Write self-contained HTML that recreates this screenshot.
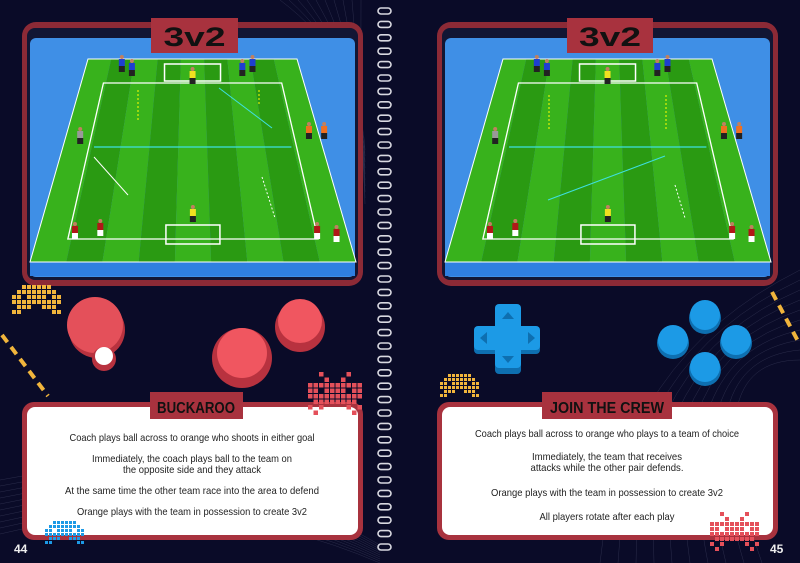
<!DOCTYPE html>
<html><head><meta charset="utf-8"><style>
html,body{margin:0;padding:0;background:#0a0b28;}
svg{display:block}
text{font-family:"Liberation Sans",sans-serif}
</style></head><body>
<svg id="s" width="800" height="563" viewBox="0 0 800 563" xmlns="http://www.w3.org/2000/svg">
<rect width="800" height="563" fill="#0a0b28"/>
<g id="bg" fill="none" stroke="#8a8fb0" stroke-width="0.5" opacity="0.25"></g>
<g id="scr"></g>
<g id="rings" fill="none" stroke="#d8d8e0" stroke-width="1.6"></g>
<circle cx="97" cy="330" r="28" fill="#b8323f"/><circle cx="95" cy="325" r="28" fill="#e4505a"/>
<circle cx="104" cy="359" r="12" fill="#b8323f"/><circle cx="104" cy="356" r="9" fill="#fff"/>
<circle cx="242" cy="358" r="30" fill="#b8323f"/><circle cx="242" cy="353" r="25" fill="#f05660"/>
<circle cx="300" cy="327" r="25" fill="#b8323f"/><circle cx="300" cy="321" r="22" fill="#f05660"/>
<g fill="#0e6fb0"><rect x="495" y="308" width="26" height="66" rx="4"/><rect x="474" y="328" width="66" height="26" rx="4"/></g>
<g fill="#1c9ae6"><rect x="495" y="304" width="26" height="64" rx="4"/><rect x="474" y="326" width="66" height="24" rx="4"/></g>
<g fill="#0e6fb0"><polygon points="508,312 502,319 514,319"/><polygon points="508,363 502,356 514,356"/><polygon points="480,338 487,332 487,344"/><polygon points="535,338 528,332 528,344"/></g>
<g id="bb"></g>
<line x1="2" y1="335" x2="48" y2="396" stroke="#f1b53c" stroke-width="4" stroke-dasharray="9 6"/>
<line x1="772" y1="292" x2="800" y2="345" stroke="#f1b53c" stroke-width="4" stroke-dasharray="9 6"/>
<rect x="22" y="402" width="341" height="138" rx="12" fill="#a8323e"/>
<rect x="27" y="407" width="331" height="128" rx="8" fill="#fff"/>
<rect x="150" y="392" width="93" height="27" fill="#a8323e"/>
<text x="196" y="413" text-anchor="middle" font-size="16" font-weight="bold" fill="#111" textLength="78" lengthAdjust="spacingAndGlyphs">BUCKAROO</text>
<g font-size="10.5" fill="#222" text-anchor="middle" lengthAdjust="spacingAndGlyphs">
<text x="192" y="441" textLength="245" lengthAdjust="spacingAndGlyphs">Coach plays ball across to orange who shoots in either goal</text>
<text x="192" y="462" textLength="200" lengthAdjust="spacingAndGlyphs">Immediately, the coach plays ball to the team on</text>
<text x="192" y="473" textLength="138" lengthAdjust="spacingAndGlyphs">the opposite side and they attack</text>
<text x="192" y="494" textLength="254" lengthAdjust="spacingAndGlyphs">At the same time the other team race into the area to defend</text>
<text x="192" y="515" textLength="230" lengthAdjust="spacingAndGlyphs">Orange plays with the team in possession to create 3v2</text>
</g>
<rect x="437" y="402" width="341" height="138" rx="12" fill="#a8323e"/>
<rect x="442" y="407" width="331" height="128" rx="8" fill="#fff"/>
<rect x="542" y="392" width="130" height="27" fill="#a8323e"/>
<text x="607" y="413" text-anchor="middle" font-size="16" font-weight="bold" fill="#111" textLength="114" lengthAdjust="spacingAndGlyphs">JOIN THE CREW</text>
<g font-size="10.5" fill="#222" text-anchor="middle">
<text x="607" y="437" textLength="264" lengthAdjust="spacingAndGlyphs">Coach plays ball across to orange who plays to a team of choice</text>
<text x="607" y="460" textLength="150" lengthAdjust="spacingAndGlyphs">Immediately, the team that receives</text>
<text x="607" y="471" textLength="153" lengthAdjust="spacingAndGlyphs">attacks while the other pair defends.</text>
<text x="607" y="496" textLength="232" lengthAdjust="spacingAndGlyphs">Orange plays with the team in possession to create 3v2</text>
<text x="607" y="520" textLength="135" lengthAdjust="spacingAndGlyphs">All players rotate after each play</text>
</g>
<g id="inv"></g>
<text x="14" y="553" font-size="12" font-weight="bold" fill="#eee">44</text>
<text x="770" y="553" font-size="12" font-weight="bold" fill="#eee">45</text>
</svg>
<script>
var NS="http://www.w3.org/2000/svg";
function el(p,t,a){var e=document.createElementNS(NS,t);for(var k in a)e.setAttribute(k,a[k]);p.appendChild(e);return e;}
var bg=document.getElementById('bg');
for(var i=0;i<10;i++){el(bg,'path',{d:'M'+(280+i*9)+' 0 Q 360 '+(60+i*4)+' 365 '+(150+i*6)});
el(bg,'path',{d:'M0 '+(480+i*6)+' Q 200 '+(440+i*5)+' 380 '+(545+i*2)});
el(bg,'path',{d:'M'+(600+i*18)+' 563 Q '+(620+i*8)+' 360 800 '+(270+i*10)});}
var rg=document.getElementById('rings');
for(var y=11;y<552;y+=13.4){el(rg,'rect',{x:378,y:y-3,width:13,height:6,rx:3});}
var scr=document.getElementById('scr');
function screen(ox,rt,title,tx,tw,left){
 el(scr,'rect',{x:ox,y:22,width:341,height:264,rx:14,fill:'#8c2a36'});
 el(scr,'rect',{x:ox+5,y:28,width:331,height:252,rx:8,fill:'#121634'});
 el(scr,'rect',{x:ox+8,y:38,width:325,height:239,rx:6,fill:'#3f8fe6'});
 el(scr,'rect',{x:ox+8,y:262,width:325,height:14,fill:'#2f7fe0'});
 var tl=rt[0],tr=rt[1],bl=ox+8,br=ox+334,ty=59,by=262;
 var n=9;
 for(var i=0;i<n;i++){var a=i/n,b=(i+1)/n;
  var p=[tl+(tr-tl)*a,ty,tl+(tr-tl)*b,ty,bl+(br-bl)*b,by,bl+(br-bl)*a,by];
  el(scr,'polygon',{points:p.join(','),fill:i%2?'#2a9a12':'#38b21c'});}
 function lerp(f,y){var t=(y-ty)/(by-ty);var l=tl+(bl-tl)*t,r=tr+(br-tr)*t;return l+(r-l)*f;}
 el(scr,'polygon',{points:[tl,ty,tr,ty,br,by,bl,by].join(','),fill:'none',stroke:'#fff','stroke-width':1});
 var y1=83,y2=239;
 el(scr,'polygon',{points:[lerp(.1,y1),y1,lerp(.9,y1),y1,lerp(.9,y2),y2,lerp(.1,y2),y2].join(','),fill:'none',stroke:'#fff','stroke-width':1.3});
 var cx=lerp(.5,70);
 el(scr,'rect',{x:cx-28,y:64,width:56,height:17,fill:'none',stroke:'#fff','stroke-width':1.5});
 var cx2=lerp(.5,235);
 el(scr,'rect',{x:cx2-27,y:225,width:54,height:19,fill:'none',stroke:'#fff','stroke-width':1.5});
 el(scr,'rect',{x:tx,y:18,width:tw,height:35,fill:'#a8323e'});
 el(scr,'text',{x:tx+tw/2,y:46,'text-anchor':'middle','font-size':27,'font-weight':'bold',fill:'#111',textLength:62,lengthAdjust:'spacingAndGlyphs'}).textContent=title;
 var pl=[[.17,68,'#1e3fd0'],[.22,72,'#1e3fd0'],[.78,68,'#1e3fd0'],[.73,72,'#1e3fd0'],[.5,80,'#f0e020'],[.5,218,'#f0e020'],
 [.12,235,'#b01818'],[.2,232,'#b01818'],[.9,235,'#b01818'],[.96,238,'#b01818'],[.06,140,'#999'],[.96,135,'#f07020'],[1.02,135,'#f07020']];
 pl.forEach(function(q){var x=lerp(q[0],q[1]);el(scr,'rect',{x:x-3,y:q[1]-9,width:6,height:7,fill:q[2]});el(scr,'rect',{x:x-3,y:q[1]-2,width:6,height:6,fill:q[2]=='#b01818'?'#fff':'#222'});el(scr,'circle',{cx:x,cy:q[1]-11,r:2,fill:'#c08060'});});
 el(scr,'line',{x1:lerp(.12,147),y1:147,x2:lerp(.88,147),y2:147,stroke:'#3ee0e0','stroke-width':1.2});
 if(left){
  el(scr,'line',{x1:219,y1:88,x2:272,y2:128,stroke:'#3ee0e0','stroke-width':1});
  el(scr,'line',{x1:94,y1:157,x2:128,y2:195,stroke:'#fff','stroke-width':1});
  el(scr,'line',{x1:138,y1:90,x2:138,y2:120,stroke:'#ff0','stroke-width':1,'stroke-dasharray':'2 2'});
  el(scr,'line',{x1:259,y1:90,x2:259,y2:105,stroke:'#ff0','stroke-width':1,'stroke-dasharray':'2 2'});
  el(scr,'line',{x1:262,y1:177,x2:275,y2:218,stroke:'#fff','stroke-width':1,'stroke-dasharray':'2 2'});
 } else {
  el(scr,'line',{x1:665,y1:156,x2:548,y2:200,stroke:'#3ee0e0','stroke-width':1});
  el(scr,'line',{x1:549,y1:95,x2:549,y2:130,stroke:'#ff0','stroke-width':1,'stroke-dasharray':'2 2'});
  el(scr,'line',{x1:666,y1:95,x2:666,y2:130,stroke:'#ff0','stroke-width':1,'stroke-dasharray':'2 2'});
  el(scr,'line',{x1:675,y1:185,x2:685,y2:218,stroke:'#fff','stroke-width':1,'stroke-dasharray':'2 2'});
 }
}
screen(22,[88,297],'3v2',151,87,true);
screen(437,[503,712],'3v2',567,86,false);
var bb=document.getElementById('bb');
[[673,340],[705,315],[736,340],[705,367]].forEach(function(c){el(bb,'circle',{cx:c[0],cy:c[1]+3,r:16,fill:'#0e6fb0'});el(bb,'circle',{cx:c[0],cy:c[1],r:15,fill:'#1c9ae6'});});
function inv(x0,y0,col,rows,s){var g=document.getElementById('inv');rows.forEach(function(r,j){for(var i=0;i<r.length;i++)if(r[i]=='1')el(g,'rect',{x:x0+i*s,y:y0+j*s,width:s-1,height:s-1,fill:col});});}
var A=['0011111100','0111111110','1101111011','1111111111','0111001110','1100000011'];
var B=['0010000100','0001001000','1111111111','1101111011','1111111111','0111111110','1010000101','0100000010'];
inv(12,285,'#f1b53c',A,5);inv(440,374,'#f1b53c',A,4);
inv(308,372,'#e4505a',B,5.5);inv(710,512,'#e4505a',B,5);
inv(45,521,'#1c9ae6',A,4);
</script>
</body></html>
